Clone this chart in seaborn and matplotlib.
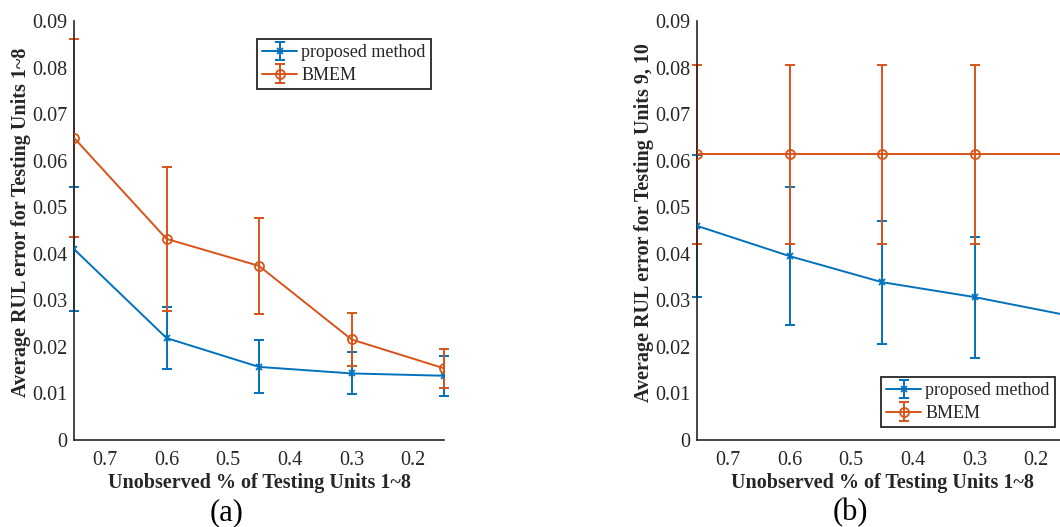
import numpy as np
import pandas as pd
import matplotlib
matplotlib.use("Agg")
import matplotlib.pyplot as plt
import seaborn as sns
from matplotlib.legend_handler import HandlerTuple

# Unobserved fraction of each testing unit
unobserved = [0.75, 0.60, 0.45, 0.30, 0.15]

# (a) testing units 1~8
prop_a = [0.0410, 0.0219, 0.0157, 0.0143, 0.0138]
prop_a_err = [0.0133, 0.0067, 0.0057, 0.0045, 0.0043]
bmem_a = [0.0649, 0.0432, 0.0374, 0.0216, 0.0154]
bmem_a_err = [0.0213, 0.0155, 0.0103, 0.0056, 0.0042]

# (b) testing units 9, 10
prop_b = [0.0460, 0.0395, 0.0339, 0.0307, 0.0268]
prop_b_err = [0.0152, 0.0148, 0.0132, 0.0130, 0.0120]
bmem_b = [0.0614, 0.0614, 0.0614, 0.0614, 0.0614]
bmem_b_err = [0.0192, 0.0192, 0.0192, 0.0192, 0.0192]

series_labels = ["proposed method", "BMEM"]
y_ticks = [0, 0.01, 0.02, 0.03, 0.04, 0.05, 0.06, 0.07, 0.08, 0.09]
y_ticklabels = ["0", "0.01", "0.02", "0.03", "0.04", "0.05", "0.06", "0.07", "0.08", "0.09"]
x_ticks = [0.7, 0.6, 0.5, 0.4, 0.3, 0.2]
x_label = "Unobserved % of Testing Units 1~8"
y_labels = ["Average RUL error for Testing Units 1~8",
            "Average RUL error for Testing Units 9, 10"]
panel_tags = ["(a)", "(b)"]

BLUE = "#0072BD"
ORANGE = "#D95319"
AXC = "#262626"

sns.set_theme(style="white")
plt.rcParams["font.family"] = ["Liberation Serif", "DejaVu Serif"]

W, H = 1060, 527
fig = plt.figure(figsize=(W / 100, H / 100), dpi=100)

def fx(px):
    return px / W

def fy(py):
    return 1 - py / H

ax_a = fig.add_axes([fx(74), fy(440), fx(370), fy(21) - fy(440)])
ax_b = fig.add_axes([fx(697), fy(440), fx(370), fy(21) - fy(440)])

panels = [
    (ax_a, prop_a, prop_a_err, bmem_a, bmem_a_err, y_labels[0], (257, 39)),
    (ax_b, prop_b, prop_b_err, bmem_b, bmem_b_err, y_labels[1], (881, 377)),
]

for ax, pv, pe, bv, be, ylab, leg_xy in panels:
    handles = []
    for vals, errs, col, mk in [(pv, pe, BLUE, "x"), (bv, be, ORANGE, "o")]:
        eb = ax.errorbar(unobserved, vals, yerr=errs, fmt="none", ecolor=col,
                         elinewidth=1.4, capsize=3.5, capthick=1.4, zorder=2)
        for art in eb.lines[1] + eb.lines[2]:
            art.set_clip_on(False)
        df = pd.DataFrame({"x": unobserved, "y": vals})
        msize = 6.5 if mk == "o" else 5
        sns.lineplot(data=df, x="x", y="y", color=col, marker=mk,
                     markersize=msize, markeredgewidth=1.3,
                     markerfacecolor="none", markeredgecolor=col,
                     linewidth=1.4, legend=False, ax=ax, zorder=3, sort=False)
        proxy = plt.Line2D([], [], color=col, lw=1.4, marker=mk,
                           markersize=msize, markerfacecolor="none",
                           markeredgecolor=col, markeredgewidth=1.3)
        handles.append((eb, proxy))

    ax.set_xlim(0.75, 0.15)
    ax.set_ylim(0, 0.09)
    ax.set_xticks(x_ticks)
    ax.set_xticklabels([f"{t:g}" for t in x_ticks])
    ax.set_yticks(y_ticks)
    ax.set_yticklabels(y_ticklabels)
    ax.tick_params(axis="both", direction="in", length=5, width=1,
                   color=AXC, labelsize=14.5, labelcolor=AXC)
    ax.tick_params(axis="x", pad=8)
    ax.tick_params(axis="y", pad=5)
    sns.despine(ax=ax)
    for sp in ["left", "bottom"]:
        ax.spines[sp].set_color(AXC)
        ax.spines[sp].set_linewidth(1.2)
    ax.set_xlabel(x_label, fontsize=14.5, fontweight="bold", color=AXC, labelpad=2)
    ax.set_ylabel(ylab, fontsize=14.5, fontweight="bold", color=AXC)
    ax.yaxis.set_label_coords(-0.115, 0.52)
    ax.grid(False)

    leg = ax.legend(handles, series_labels,
                    handler_map={tuple: HandlerTuple(ndivide=1, pad=0)},
                    loc="upper left",
                    bbox_to_anchor=(fx(leg_xy[0]), fy(leg_xy[1])),
                    bbox_transform=fig.transFigure, borderaxespad=0,
                    fontsize=13, frameon=True, fancybox=False,
                    edgecolor=AXC, framealpha=1, handlelength=1.9,
                    handletextpad=0.25, borderpad=0.3, labelspacing=0.3)
    leg.get_frame().set_linewidth(1.3)
    for t in leg.get_texts():
        t.set_color(AXC)

fig.text(fx(227), fy(513), panel_tags[0], fontsize=22, ha="center", va="center", color="black")
fig.text(fx(850), fy(513), panel_tags[1], fontsize=22, ha="center", va="center", color="black")

fig.savefig("out.png", dpi=100, facecolor="white")
